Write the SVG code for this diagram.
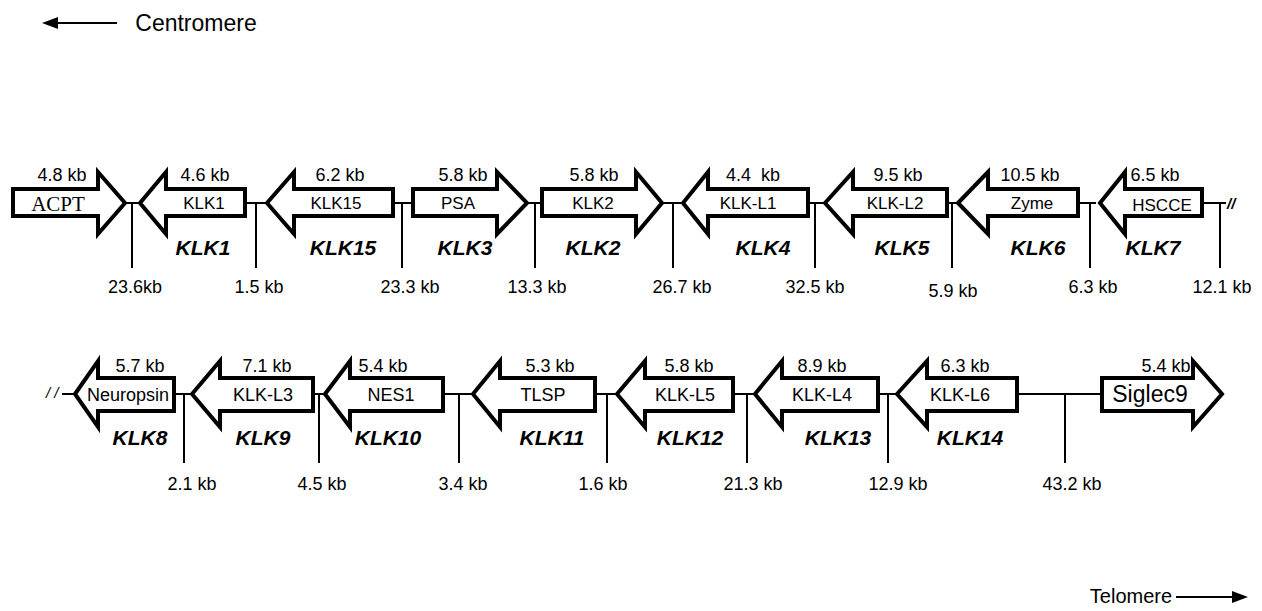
<svg xmlns="http://www.w3.org/2000/svg" width="1262" height="611" viewBox="0 0 1262 611">
<style>
  .arr{fill:#fff;stroke:#000;stroke-width:4;stroke-linejoin:miter;stroke-miterlimit:10}
  .ln{stroke:#000;stroke-width:2;fill:none}
  .t{font-family:"Liberation Sans",Arial,sans-serif;fill:#000;text-anchor:middle}
  .kb{font-size:18px}
  .in{font-size:17px}
  .in2{font-size:18px}
  .it{font-size:21px;font-weight:bold;font-style:italic}
</style>
<rect width="1262" height="611" fill="#fff"/>

<g id="connectors">
  <!-- top row backbone -->
  <line class="ln" x1="125" y1="203" x2="140" y2="203"/>
  <line class="ln" x1="245" y1="203" x2="267" y2="203"/>
  <line class="ln" x1="393" y1="203" x2="413" y2="203"/>
  <line class="ln" x1="527" y1="203" x2="542" y2="203"/>
  <line class="ln" x1="662" y1="203" x2="683" y2="203"/>
  <line class="ln" x1="808" y1="203" x2="825" y2="203"/>
  <line class="ln" x1="947" y1="203" x2="958" y2="203"/>
  <line class="ln" x1="1078" y1="203" x2="1096" y2="203"/>
  <line class="ln" x1="1202" y1="203" x2="1226" y2="203"/>
  <!-- top row ticks -->
  <line class="ln" x1="132" y1="203" x2="132" y2="268"/>
  <line class="ln" x1="256" y1="203" x2="256" y2="268"/>
  <line class="ln" x1="402" y1="203" x2="402" y2="268"/>
  <line class="ln" x1="535" y1="203" x2="535" y2="268"/>
  <line class="ln" x1="673" y1="203" x2="673" y2="268"/>
  <line class="ln" x1="815" y1="203" x2="815" y2="268"/>
  <line class="ln" x1="952" y1="203" x2="952" y2="268"/>
  <line class="ln" x1="1090" y1="203" x2="1090" y2="268"/>
  <line class="ln" x1="1220" y1="203" x2="1220" y2="268"/>
  <!-- bottom row backbone -->
  <line class="ln" x1="62" y1="394" x2="75" y2="394"/>
  <line class="ln" x1="174" y1="394" x2="192" y2="394"/>
  <line class="ln" x1="313" y1="394" x2="325" y2="394"/>
  <line class="ln" x1="443" y1="394" x2="473" y2="394"/>
  <line class="ln" x1="595" y1="394" x2="617" y2="394"/>
  <line class="ln" x1="733" y1="394" x2="755" y2="394"/>
  <line class="ln" x1="878" y1="394" x2="897" y2="394"/>
  <line class="ln" x1="1017" y1="394" x2="1102" y2="394"/>
  <!-- bottom row ticks -->
  <line class="ln" x1="184" y1="394" x2="184" y2="463"/>
  <line class="ln" x1="319" y1="394" x2="319" y2="463"/>
  <line class="ln" x1="459" y1="394" x2="459" y2="463"/>
  <line class="ln" x1="607" y1="394" x2="607" y2="463"/>
  <line class="ln" x1="747" y1="394" x2="747" y2="463"/>
  <line class="ln" x1="888" y1="394" x2="888" y2="463"/>
  <line class="ln" x1="1065" y1="394" x2="1065" y2="463"/>
  <!-- direction arrows -->
  <line class="ln" x1="117" y1="23" x2="55" y2="23" stroke-width="2.5"/>
  <polygon points="42,23 58,17 58,29" fill="#000"/>
  <line class="ln" x1="1176" y1="597" x2="1234" y2="597" stroke-width="2.5"/>
  <polygon points="1248,597 1232,591 1232,603" fill="#000"/>
</g>

<g id="labels">
  <text class="t" x="196" y="31" style="font-size:23px">Centromere</text>
  <text class="t" x="1131" y="603" style="font-size:20px">Telomere</text>
  <text x="1227" y="209" style="font-family:'Liberation Sans',Arial,sans-serif;font-size:15px;font-style:italic;font-weight:bold">//</text>
  <text x="46" y="398" style="font-family:'Liberation Sans',Arial,sans-serif;font-size:15px;font-style:italic">/ /</text>
  <!-- top row distances -->
  <text class="t kb" x="135" y="293">23.6kb</text>
  <text class="t kb" x="259" y="293">1.5 kb</text>
  <text class="t kb" x="410" y="293">23.3 kb</text>
  <text class="t kb" x="537" y="293">13.3 kb</text>
  <text class="t kb" x="682" y="293">26.7 kb</text>
  <text class="t kb" x="815" y="293">32.5 kb</text>
  <text class="t kb" x="953" y="297">5.9 kb</text>
  <text class="t kb" x="1093" y="293">6.3 kb</text>
  <text class="t kb" x="1222" y="293">12.1 kb</text>
  <!-- bottom row distances -->
  <text class="t kb" x="192" y="490">2.1 kb</text>
  <text class="t kb" x="322" y="490">4.5 kb</text>
  <text class="t kb" x="463" y="490">3.4 kb</text>
  <text class="t kb" x="603" y="490">1.6 kb</text>
  <text class="t kb" x="753" y="490">21.3 kb</text>
  <text class="t kb" x="898" y="490">12.9 kb</text>
  <text class="t kb" x="1072" y="490">43.2 kb</text>
</g>

<g id="ACPT">
  <polygon class="arr" points="13,189 98,189 98,172 125,203 98,234 98,216 13,216"/>
  <text class="t" x="58" y="211" style="font-family:'Liberation Serif','Times New Roman',serif;font-size:21px">ACPT</text>
  <text class="t kb" x="62" y="181">4.8 kb</text>
</g>
<g id="KLK1">
  <polygon class="arr" points="140,203 166,172 166,189 245,189 245,216 166,216 166,234"/>
  <text class="t in" x="204" y="209">KLK1</text>
  <text class="t kb" x="205" y="181">4.6 kb</text>
  <text class="t it" x="203" y="255">KLK1</text>
</g>
<g id="KLK15">
  <polygon class="arr" points="267,203 294,172 294,189 393,189 393,216 294,216 294,234"/>
  <text class="t in" x="336" y="209">KLK15</text>
  <text class="t kb" x="340" y="181">6.2 kb</text>
  <text class="t it" x="343" y="255">KLK15</text>
</g>
<g id="KLK3">
  <polygon class="arr" points="413,189 497,189 497,172 527,203 497,234 497,216 413,216"/>
  <text class="t in" x="458" y="209">PSA</text>
  <text class="t kb" x="463" y="181">5.8 kb</text>
  <text class="t it" x="465" y="255">KLK3</text>
</g>
<g id="KLK2">
  <polygon class="arr" points="542,189 636,189 636,172 662,203 636,234 636,216 542,216"/>
  <text class="t in" x="593" y="209">KLK2</text>
  <text class="t kb" x="594" y="181">5.8 kb</text>
  <text class="t it" x="593" y="255">KLK2</text>
</g>
<g id="KLK4">
  <polygon class="arr" points="683,203 708,172 708,189 808,189 808,216 708,216 708,234"/>
  <text class="t in" x="748" y="209">KLK-L1</text>
  <text class="t kb" x="753" y="181" xml:space="preserve">4.4  kb</text>
  <text class="t it" x="763" y="255">KLK4</text>
</g>
<g id="KLK5">
  <polygon class="arr" points="825,203 853,172 853,189 947,189 947,216 853,216 853,234"/>
  <text class="t in" x="895" y="209">KLK-L2</text>
  <text class="t kb" x="898" y="181">9.5 kb</text>
  <text class="t it" x="902" y="255">KLK5</text>
</g>
<g id="KLK6">
  <polygon class="arr" points="958,203 988,172 988,189 1078,189 1078,216 988,216 988,234"/>
  <text class="t in" x="1032" y="209">Zyme</text>
  <text class="t kb" x="1030" y="181">10.5 kb</text>
  <text class="t it" x="1038" y="255">KLK6</text>
</g>
<g id="KLK7">
  <polygon class="arr" points="1100,203 1125,172 1125,189 1202,189 1202,216 1125,216 1125,234"/>
  <text class="t in" x="1162" y="211">HSCCE</text>
  <text class="t kb" x="1155" y="181">6.5 kb</text>
  <text class="t it" x="1153" y="255">KLK7</text>
</g>

<g id="KLK8">
  <polygon class="arr" points="75,394 98,361 98,378 174,378 174,411 98,411 98,427"/>
  <text class="t in2" x="128" y="401">Neuropsin</text>
  <text class="t kb" x="140" y="372">5.7 kb</text>
  <text class="t it" x="140" y="445">KLK8</text>
</g>
<g id="KLK9">
  <polygon class="arr" points="192,394 220,361 220,378 313,378 313,411 220,411 220,427"/>
  <text class="t in2" x="263" y="401">KLK-L3</text>
  <text class="t kb" x="267" y="372">7.1 kb</text>
  <text class="t it" x="263" y="445">KLK9</text>
</g>
<g id="KLK10">
  <polygon class="arr" points="325,394 350,361 350,378 443,378 443,411 350,411 350,427"/>
  <text class="t in2" x="391" y="401">NES1</text>
  <text class="t kb" x="383" y="372">5.4 kb</text>
  <text class="t it" x="388" y="445">KLK10</text>
</g>
<g id="KLK11">
  <polygon class="arr" points="473,394 500,361 500,378 595,378 595,411 500,411 500,427"/>
  <text class="t in2" x="543" y="401">TLSP</text>
  <text class="t kb" x="550" y="372">5.3 kb</text>
  <text class="t it" x="552" y="445">KLK11</text>
</g>
<g id="KLK12">
  <polygon class="arr" points="617,394 645,361 645,378 733,378 733,411 645,411 645,427"/>
  <text class="t in2" x="685" y="401">KLK-L5</text>
  <text class="t kb" x="689" y="372">5.8 kb</text>
  <text class="t it" x="690" y="445">KLK12</text>
</g>
<g id="KLK13">
  <polygon class="arr" points="755,394 782,361 782,378 878,378 878,411 782,411 782,427"/>
  <text class="t in2" x="822" y="401">KLK-L4</text>
  <text class="t kb" x="822" y="372">8.9 kb</text>
  <text class="t it" x="838" y="445">KLK13</text>
</g>
<g id="KLK14">
  <polygon class="arr" points="897,394 927,361 927,378 1017,378 1017,411 927,411 927,427"/>
  <text class="t in2" x="960" y="401">KLK-L6</text>
  <text class="t kb" x="965" y="372">6.3 kb</text>
  <text class="t it" x="970" y="445">KLK14</text>
</g>
<g id="Siglec9">
  <polygon class="arr" points="1102,378 1193,378 1193,361 1222,394 1193,427 1193,411 1102,411"/>
  <text class="t" x="1150" y="402" style="font-size:23px">Siglec9</text>
  <text class="t kb" x="1166" y="372">5.4 kb</text>
</g>
</svg>
